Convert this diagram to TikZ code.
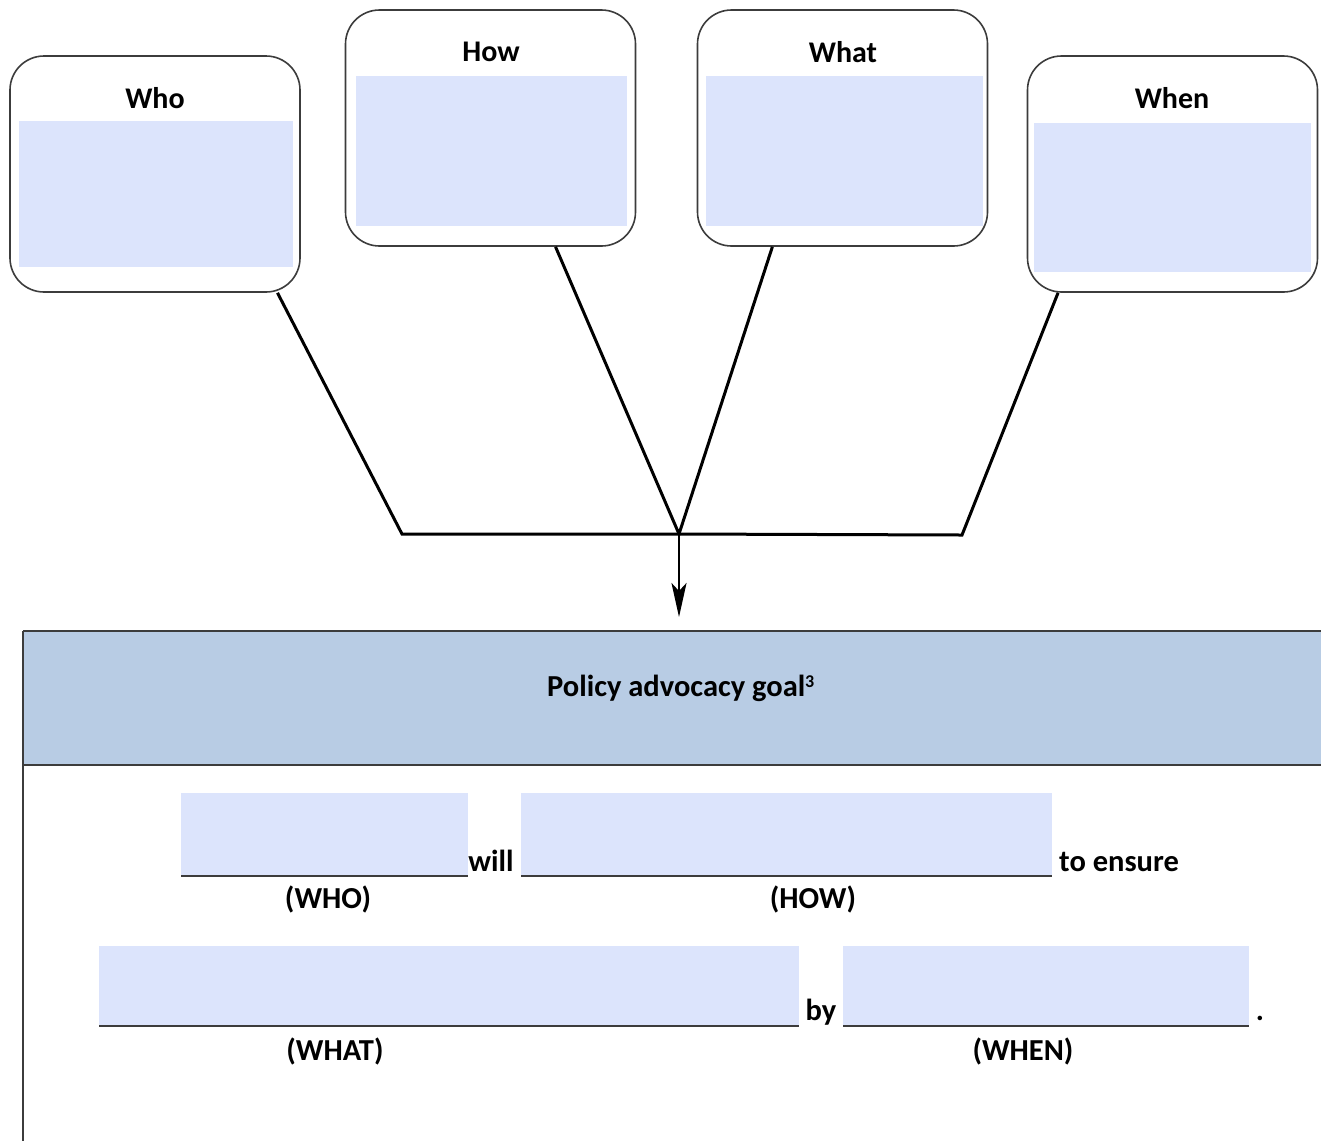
\documentclass[tikz,border=0pt]{standalone}
\usepackage{fontspec}
\setmainfont{Carlito}
\usetikzlibrary{arrows.meta,calc}
\definecolor{fieldblue}{RGB}{220,228,252}
\definecolor{headblue}{RGB}{184,204,228}
\definecolor{edgegray}{RGB}{60,60,60}
\begin{document}
\begin{tikzpicture}[x=1pt,y=-1pt,
  card/.style={draw=edgegray,line width=1.6pt,rounded corners=34pt,minimum width=290pt,minimum height=236pt,inner sep=0pt,fill=white},
  cardfill/.style={fill=fieldblue,draw=none,inner sep=0pt},
  cardlabel/.style={font=\fontsize{30}{33}\selectfont\bfseries,inner sep=0pt},
  txt/.style={font=\fontsize{30.5}{33}\selectfont\bfseries,inner sep=0pt},
  field/.style={fill=fieldblue,draw=none,inner sep=0pt},
  uline/.style={draw=edgegray,line width=2pt},
  conn/.style={draw=black,line width=3pt,line join=miter},
  tabline/.style={draw=edgegray,line width=2pt}]
\useasboundingbox (0,0) rectangle (1321,1141);
% cards
\node[card] (who) at (155,174) {};
\node[card] (how) at (490.5,128) {};
\node[card] (what) at (842.5,128) {};
\node[card] (when) at (1172.5,174) {};
\node[cardfill,minimum width=274pt,minimum height=146pt] (whof) at (156,194) {};
\node[cardfill,minimum width=271pt,minimum height=150pt] (howf) at (491.5,151) {};
\node[cardfill,minimum width=277pt,minimum height=150pt] (whatf) at (844.5,151) {};
\node[cardfill,minimum width=277pt,minimum height=149pt] (whenf) at (1172.5,197.5) {};
\node[cardlabel] (whol) at (155,98) {Who};
\node[cardlabel] (howl) at (491,52) {How};
\node[cardlabel] (whatl) at (843,52) {What};
\node[cardlabel] (whenl) at (1172,98) {When};
% junctions
\coordinate (jl) at (402,534);
\coordinate (jc) at (679,534);
\coordinate (jr) at (962,535);
\draw[conn] ($(who.south)!0.84!(who.south east)$) -- (jl) -- (jc) -- (jr) -- ($(when.south)!0.785!(when.south west)$);
\draw[conn] ($(how.south)!0.446!(how.south east)$) -- (jc) -- ($(what.south)!0.481!(what.south west)$);
% goal header
\node[fill=headblue,draw=none,minimum width=1298pt,minimum height=134pt,inner sep=0pt,anchor=north west] (goal) at (23,631) {};
\node[txt] (goaltxt) at (681,688) {Policy advocacy goal\textsuperscript{\fontsize{18}{20}\selectfont 3}};
\draw[tabline] (goal.north west) -- (goal.north east);
\draw[tabline] (goal.south west) -- (goal.south east);
\draw[tabline] (goal.north west) -- (23,1141);
\draw[line width=2.8pt,-{Stealth[length=34pt,width=15pt,inset=8pt]}] (jc) -- ($(jc|-goal.north)+(0,-14)$);
% row 1
\node[field,minimum width=287pt,minimum height=83pt,anchor=north west] (fwho) at (181,793) {};
\node[field,minimum width=531pt,minimum height=83pt,anchor=north west] (fhow) at (521,793) {};
\draw[uline] (fwho.south west) -- (fwho.south east);
\draw[uline] (fhow.south west) -- (fhow.south east);
\node[txt,anchor=base] (will) at (491,871) {will};
\node[txt,anchor=base west] (ensure) at (1059,871) {to ensure};
\node[txt] (lwho) at (328,899) {(WHO)};
\node[txt] (lhow) at (813,899) {(HOW)};
% row 2
\node[field,minimum width=700pt,minimum height=80pt,anchor=north west] (fwhat) at (99,946) {};
\node[field,minimum width=406pt,minimum height=80pt,anchor=north west] (fwhen) at (843,946) {};
\draw[uline] (fwhat.south west) -- (fwhat.south east);
\draw[uline] (fwhen.south west) -- (fwhen.south east);
\node[txt,anchor=base] (by) at (821,1020) {by};
\node[txt,anchor=base] (dot) at (1260,1020) {.};
\node[txt] (lwhat) at (335,1051) {(WHAT)};
\node[txt] (lwhen) at (1023,1051) {(WHEN)};
\end{tikzpicture}
\end{document}
